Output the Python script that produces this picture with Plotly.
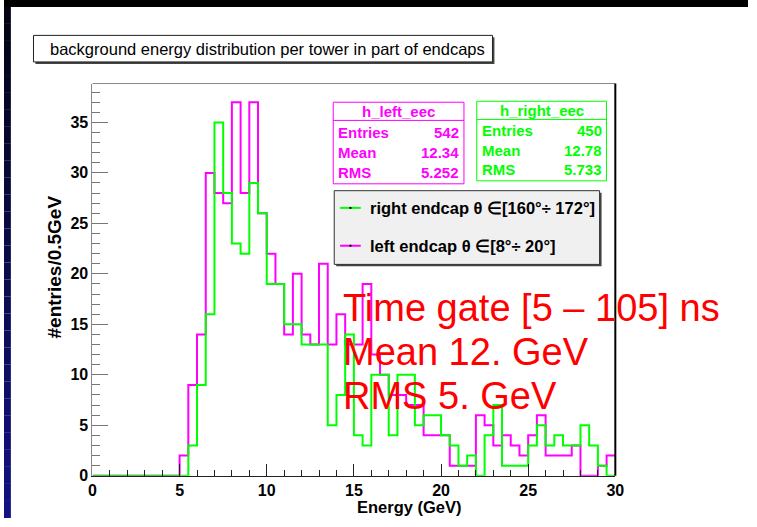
import plotly.graph_objects as go

# Histogram binning: 60 bins of 0.5 GeV between 0 and 30 GeV
bin_low = 0.0
bin_high = 30.0
n_bins = 60

# h_left_eec : left endcap, theta in [8, 20] deg
left_counts = [0, 0, 0, 0, 0, 0, 0, 0, 0, 0,
               2, 9, 14, 30, 28, 27, 37, 28, 37, 26,
               22, 19, 14, 20, 14, 13, 21, 13, 16, 13,
               13, 19, 12, 10, 8, 8, 7, 7, 4, 4,
               4, 1, 1, 1, 6, 5, 3, 4, 3, 2,
               4, 6, 2, 2, 2, 3, 0, 0, 1, 2]

# h_right_eec : right endcap, theta in [160, 172] deg
right_counts = [0, 0, 0, 0, 0, 0, 0, 0, 0, 0,
                0, 3, 9, 16, 35, 28, 23, 22, 29, 26,
                19, 19, 15, 15, 13, 13, 13, 5, 8, 14,
                4, 3, 10, 10, 4, 10, 10, 5, 6, 6,
                4, 3, 1, 2, 0, 4, 7, 1, 1, 1,
                3, 5, 3, 4, 3, 3, 5, 3, 1, 0]

# Statistics boxes
left_stats = {"name": "h_left_eec", "Entries": "542", "Mean": "12.34", "RMS": "5.252"}
right_stats = {"name": "h_right_eec", "Entries": "450", "Mean": "12.78", "RMS": "5.733"}

legend_labels = ["right endcap \u03b8 \u2208[160\u00b0\u00f7 172\u00b0]",
                 "left endcap \u03b8 \u2208[8\u00b0\u00f7 20\u00b0]"]
title_text = "background energy distribution per tower in part of endcaps"
note_lines = ["Time gate [5 \u2013 105] ns", "Mean 12. GeV", "RMS 5. GeV"]

x_ticks = [0, 5, 10, 15, 20, 25, 30]
y_ticks = [0, 5, 10, 15, 20, 25, 30, 35]

W, H = 757, 527
MAGENTA = "#ff00ff"
GREEN = "#00ff00"
FONT = "Liberation Sans, Arial, sans-serif"


def px(x):
    return x / W


def py(y):
    return 1 - y / H


width = (bin_high - bin_low) / n_bins
edges = [bin_low + i * width for i in range(n_bins + 1)]

fig = go.Figure()
for counts, color in ((left_counts, MAGENTA), (right_counts, GREEN)):
    fig.add_trace(go.Scatter(
        x=edges, y=counts + [counts[-1]], mode="lines", line_shape="hv",
        line=dict(color=color, width=2), hoverinfo="skip", showlegend=False,
    ))

shapes = []
# dark slide border (top and left)
shapes.append(dict(type="rect", xref="paper", yref="paper", x0=0, x1=1,
                   y0=py(7), y1=1, fillcolor="#000000", line_width=0, layer="above"))
n_slices = 30
for i in range(n_slices):
    t = i / (n_slices - 1)
    col = "rgb(%d,%d,%d)" % (int(4 + 14 * t), int(4 + 14 * t), int(20 + 110 * t))
    shapes.append(dict(type="rect", xref="paper", yref="paper", x0=0, x1=px(7),
                       y0=py(7 + (i + 1) * (H - 7) / n_slices),
                       y1=py(7 + i * (H - 7) / n_slices),
                       fillcolor=col, line_width=0, layer="above"))


def box(x0, y0, x1, y1, fill, border, shadow=None, width=1):
    if shadow:
        shapes.append(dict(type="rect", xref="paper", yref="paper",
                           x0=px(x0 + 2), x1=px(x1 + 2), y0=py(y1 + 2), y1=py(y0 + 2),
                           fillcolor=shadow, line_width=0, layer="above"))
    shapes.append(dict(type="rect", xref="paper", yref="paper",
                       x0=px(x0), x1=px(x1), y0=py(y1), y1=py(y0),
                       fillcolor=fill, line=dict(color=border, width=width), layer="above"))


def hline(x0, x1, y, color, width=1):
    shapes.append(dict(type="line", xref="paper", yref="paper",
                       x0=px(x0), x1=px(x1), y0=py(y), y1=py(y),
                       line=dict(color=color, width=width), layer="above"))


def dot(x, y):
    shapes.append(dict(type="rect", xref="paper", yref="paper",
                       x0=px(x - 1), x1=px(x + 1), y0=py(y + 1), y1=py(y - 1),
                       fillcolor="#000000", line_width=0, layer="above"))


# title box
box(30, 36, 497, 63, "white", "#222222", shadow="#444444")
# statistics boxes
box(335, 104, 468, 187, "white", MAGENTA)
hline(335, 468, 122.5, MAGENTA)
box(481, 103, 613, 184, "white", GREEN)
hline(481, 613, 121.5, GREEN)
# legend box with line samples (line + marker)
box(336, 194, 606, 269, "#f0f0f0", "#333333", shadow="#444444")
hline(342, 363, 211.5, GREEN, 2)
dot(352.5, 211.5)
hline(342, 363, 250, MAGENTA, 2)
dot(352.5, 250)
# frame: top (grey) and right (black)
shapes.append(dict(type="line", xref="paper", yref="paper", x0=px(90), x1=px(622),
                   y0=py(85), y1=py(85), line=dict(color="#888888", width=1)))
shapes.append(dict(type="line", xref="paper", yref="paper", x0=px(622), x1=px(622),
                   y0=py(85), y1=py(484), line=dict(color="#000000", width=2)))

ann = []


def text(x, y, s, size, color="black", anchor="left", bold=True, angle=0):
    ann.append(dict(x=px(x), y=py(y), xref="paper", yref="paper", text=s,
                    showarrow=False, xanchor=anchor, yanchor="middle", textangle=angle,
                    font=dict(family=FONT, size=size, color=color,
                              weight="bold" if bold else "normal")))


text(45, 49.5, title_text, 16.5, bold=False)

for stats, color, x0, x1, rows in ((left_stats, MAGENTA, 335, 468, (113, 135, 155, 175)),
                                   (right_stats, GREEN, 481, 613, (112, 133, 153, 172.5))):
    text((x0 + x1) / 2, rows[0], stats["name"], 15, color, anchor="center")
    for key, yy in zip(("Entries", "Mean", "RMS"), rows[1:]):
        text(x0 + 3, yy, key, 15, color)
        text(x1 - 3, yy, stats[key], 15, color, anchor="right")

text(370, 211.5, legend_labels[0], 16.5)
text(370, 250, legend_labels[1], 16.5)

for line, yy in zip(note_lines, (313, 358, 403)):
    text(343, yy, line, 38, "#ff0000", bold=False)

text(357, 516, "Energy (GeV)", 16.5)
text(51, 272, "#entries/0.5GeV", 19, anchor="center", angle=-90)

fig.update_layout(
    width=W, height=H, margin=dict(l=0, r=0, t=0, b=0),
    paper_bgcolor="white", plot_bgcolor="white",
    shapes=shapes, annotations=ann, showlegend=False,
    xaxis=dict(domain=[px(90), px(622)], range=[bin_low, bin_high],
               tickvals=x_ticks, ticktext=[str(v) for v in x_ticks],
               ticks="inside", ticklen=12, tickwidth=1, tickcolor="#222222",
               minor=dict(dtick=1, ticks="inside", ticklen=6, tickcolor="#222222"),
               showgrid=False, zeroline=False, showline=True, linecolor="#222222",
               linewidth=1, tickfont=dict(family=FONT, size=16, color="black", weight="bold")),
    yaxis=dict(domain=[py(484), py(85)], range=[0, 38.85],
               tickvals=y_ticks, ticktext=[str(v) for v in y_ticks],
               ticks="inside", ticklen=16, tickwidth=1, tickcolor="#777777",
               minor=dict(dtick=1, ticks="inside", ticklen=8, tickcolor="#777777"),
               showgrid=False, zeroline=False, showline=True, linecolor="#888888",
               linewidth=1, tickfont=dict(family=FONT, size=16, color="black", weight="bold")),
)

fig.write_html("out.html")
